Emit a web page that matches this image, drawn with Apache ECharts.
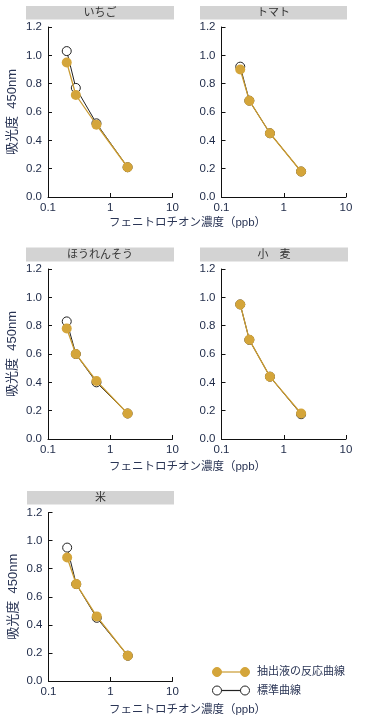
<!DOCTYPE html>
<html>
<head>
<meta charset="utf-8">
<style>
html,body{margin:0;padding:0;background:#fff;}
#chart{width:368px;height:720px;}
</style>
<script src="https://cdn.jsdelivr.net/npm/echarts@6/dist/echarts.min.js"></script>
</head>
<body>
<div id="chart"></div>
<script>
// ---- data ----
const concentration = [0.2, 0.28, 0.6, 1.9];
const panelTitles = ['いちご', 'トマト', 'ほうれんそう', '小　麦', '米'];
const stdIchigo = [1.03, 0.77, 0.52, 0.21];
const extIchigo = [0.95, 0.72, 0.51, 0.21];
const stdTomato = [0.92, 0.68, 0.45, 0.18];
const extTomato = [0.90, 0.68, 0.45, 0.18];
const stdHourensou = [0.83, 0.60, 0.40, 0.18];
const extHourensou = [0.78, 0.60, 0.41, 0.18];
const stdKomugi = [0.95, 0.70, 0.44, 0.175];
const extKomugi = [0.95, 0.70, 0.44, 0.18];
const stdKome = [0.95, 0.69, 0.45, 0.18];
const extKome = [0.88, 0.69, 0.46, 0.18];
const yTicks = ['0.0', '0.2', '0.4', '0.6', '0.8', '1.0', '1.2'];
const xTicks = ['0.1', '1', '10'];
const legendNames = ['抽出液の反応曲線', '標準曲線'];
const xAxisTitle = 'フェニトロチオン濃度（ppb）';
const yAxisTitle = '吸光度  450nm';

const stdSets = [stdIchigo, stdTomato, stdHourensou, stdKomugi, stdKome];
const extSets = [extIchigo, extTomato, extHourensou, extKomugi, extKome];

// ---- layout ----
const FONT = '"Liberation Sans", "Noto Sans CJK JP", sans-serif';
const TXT = '#1e2a48';
const GOLD = '#d4a53a';
const GOLD_LINE = '#c99a30';
const grids = [
  {left: 48, top: 27, width: 124.5, height: 170},
  {left: 221.5, top: 27, width: 124.5, height: 170},
  {left: 48, top: 269, width: 124.5, height: 170},
  {left: 221.5, top: 269, width: 124.5, height: 170},
  {left: 48.5, top: 512.5, width: 124, height: 168.5}
];
const titleBars = [
  {x: 26, y: 6, w: 148, h: 13.5},
  {x: 200, y: 6, w: 147, h: 13.5},
  {x: 26, y: 247.5, w: 148, h: 14},
  {x: 200, y: 247.5, w: 148, h: 14},
  {x: 27, y: 491, w: 147, h: 13.5}
];
const xNameY = [223, 467, 710];

const chart = echarts.init(document.getElementById('chart'), null, {renderer: 'canvas'});

const xAxes = [], yAxes = [], series = [], graphics = [];
grids.forEach((g, i) => {
  xAxes.push({
    type: 'log', logBase: 10, min: 0.1, max: 10, gridIndex: i,
    axisLine: {lineStyle: {color: '#111', width: 1}},
    axisTick: {inside: true, length: 4, lineStyle: {color: '#111'}},
    minorTick: {show: false},
    splitLine: {show: false},
    axisLabel: {
      color: TXT, fontSize: 11.5, fontFamily: FONT, margin: 5,
      formatter: v => {
        const k = Math.round(Math.log10(v)) + 1;
        return xTicks[k] !== undefined ? xTicks[k] : '';
      }
    }
  });
  yAxes.push({
    type: 'value', min: 0, max: 1.2, interval: 0.2, gridIndex: i,
    name: (i % 2 === 0) ? yAxisTitle : '',
    nameLocation: 'middle', nameRotate: 90, nameGap: 29,
    nameTextStyle: {color: '#2a3555', fontSize: 13, fontFamily: FONT},
    axisLine: {show: true, lineStyle: {color: '#111', width: 1}},
    axisTick: {show: true, inside: true, length: 4, lineStyle: {color: '#111'}},
    splitLine: {show: false},
    axisLabel: {
      color: TXT, fontSize: 11.5, fontFamily: FONT, margin: 6,
      formatter: v => yTicks[Math.round(v / 0.2)]
    }
  });
  series.push({
    name: legendNames[1], type: 'line', xAxisIndex: i, yAxisIndex: i,
    data: concentration.map((c, k) => [c, stdSets[i][k]]),
    symbol: 'circle', symbolSize: 9,
    lineStyle: {color: '#222', width: 1},
    itemStyle: {color: '#fff', borderColor: '#222', borderWidth: 1},
    z: 2, animation: false
  });
  series.push({
    name: legendNames[0], type: 'line', xAxisIndex: i, yAxisIndex: i,
    data: concentration.map((c, k) => [c, extSets[i][k]]),
    symbol: 'circle', symbolSize: 10,
    lineStyle: {color: GOLD_LINE, width: 1.3},
    itemStyle: {color: GOLD, borderColor: GOLD, borderWidth: 0},
    z: 3, animation: false
  });
  const t = titleBars[i];
  graphics.push({type: 'rect', shape: {x: t.x, y: t.y, width: t.w, height: t.h}, style: {fill: '#d3d3d3'}, silent: true});
  graphics.push({type: 'text', x: t.x + t.w / 2, y: t.y + t.h / 2 + 0.5,
    style: {text: panelTitles[i], fill: '#333', font: '11px ' + FONT, textAlign: 'center', textVerticalAlign: 'middle'}});
});

xNameY.forEach(y => {
  graphics.push({type: 'text', x: 187.5, y: y,
    style: {text: xAxisTitle, fill: '#2a3555', font: '11.5px ' + FONT, textAlign: 'center', textVerticalAlign: 'middle'}});
});

// legend drawn as graphics
const legRows = [{y: 672, fill: GOLD, stroke: GOLD, line: GOLD_LINE, text: legendNames[0]},
                 {y: 690.5, fill: '#fff', stroke: '#222', line: '#222', text: legendNames[1]}];
legRows.forEach(r => {
  graphics.push({type: 'line', shape: {x1: 217, y1: r.y, x2: 245, y2: r.y}, style: {stroke: r.line, lineWidth: 1.2}});
  [217, 245].forEach(cx => graphics.push({type: 'circle', shape: {cx: cx, cy: r.y, r: 4.5}, style: {fill: r.fill, stroke: r.stroke, lineWidth: 1}}));
  graphics.push({type: 'text', x: 257, y: r.y,
    style: {text: r.text, fill: '#2a3555', font: '11px ' + FONT, textAlign: 'left', textVerticalAlign: 'middle'}});
});

chart.setOption({
  backgroundColor: '#fff',
  animation: false,
  grid: grids.map(g => ({left: g.left, top: g.top, width: g.width, height: g.height, containLabel: false})),
  xAxis: xAxes,
  yAxis: yAxes,
  series: series,
  graphic: graphics
});
</script>
</body>
</html>
